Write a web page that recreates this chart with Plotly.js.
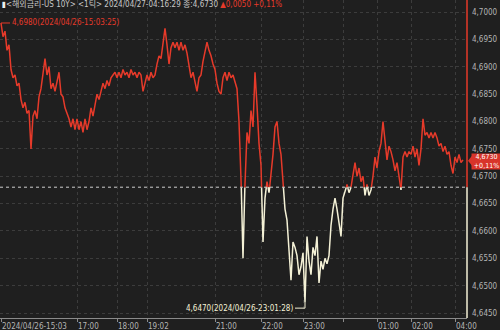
<!DOCTYPE html>
<html><head><meta charset="utf-8">
<script src="https://cdn.plot.ly/plotly-3.0.1.min.js"></script>
<style>html,body{margin:0;padding:0;background:#1f1f1f;}#chart{width:500px;height:330px;}</style>
</head><body><div id="chart"></div>
<script>
// Tick-by-tick yield values (US 10Y), one per tick index
const yields = [
 4.6980,4.6955,4.6965,4.6930,4.6940,4.6895,4.6880,4.6885,4.6865,4.6870,
 4.6840,4.6825,4.6835,4.6815,4.6820,4.6750,4.6810,4.6820,4.6805,4.6845,
 4.6860,4.6885,4.6915,4.6885,4.6900,4.6860,4.6870,4.6855,4.6870,4.6890,
 4.6850,4.6845,4.6825,4.6815,4.6805,4.6790,4.6805,4.6785,4.6805,4.6785,
 4.6800,4.6780,4.6805,4.6785,4.6800,4.6825,4.6810,4.6830,4.6850,4.6840,
 4.6855,4.6870,4.6860,4.6875,4.6865,4.6880,4.6885,4.6890,4.6880,4.6890,
 4.6880,4.6895,4.6885,4.6890,4.6880,4.6895,4.6885,4.6890,4.6880,4.6890,
 4.6885,4.6855,4.6870,4.6885,4.6875,4.6890,4.6880,4.6885,4.6905,4.6920,
 4.6915,4.6940,4.6970,4.6940,4.6905,4.6935,4.6945,4.6935,4.6945,4.6930,
 4.6945,4.6930,4.6940,4.6925,4.6900,4.6880,4.6890,4.6875,4.6855,4.6880,
 4.6885,4.6910,4.6925,4.6945,4.6930,4.6920,4.6905,4.6895,4.6870,4.6855,
 4.6850,4.6880,4.6890,4.6875,4.6890,4.6880,4.6885,4.6870,4.6860,4.6800,
 4.6700,4.6550,4.6690,4.6780,4.6760,4.6820,4.6790,4.6890,4.6830,4.6760,
 4.6720,4.6580,4.6660,4.6690,4.6670,4.6700,4.6740,4.6790,4.6800,4.6760,
 4.6740,4.6690,4.6640,4.6620,4.6560,4.6510,4.6580,4.6570,4.6555,4.6520,
 4.6535,4.6560,4.6470,4.6590,4.6545,4.6520,4.6570,4.6555,4.6590,4.6505,
 4.6545,4.6530,4.6550,4.6540,4.6555,4.6610,4.6640,4.6660,4.6640,4.6615,
 4.6590,4.6660,4.6670,4.6685,4.6670,4.6680,4.6700,4.6725,4.6700,4.6715,
 4.6690,4.6700,4.6665,4.6685,4.6665,4.6675,4.6700,4.6735,4.6715,4.6745,
 4.6760,4.6800,4.6760,4.6730,4.6755,4.6745,4.6730,4.6710,4.6725,4.6700,
 4.6675,4.6735,4.6745,4.6735,4.6745,4.6740,4.6755,4.6735,4.6750,4.6720,
 4.6750,4.6805,4.6775,4.6780,4.6770,4.6780,4.6770,4.6780,4.6770,4.6755,
 4.6760,4.6745,4.6755,4.6740,4.6745,4.6720,4.6705,4.6735,4.6725,4.6740,
 4.6725,4.6730
];
const prevClose = 4.6680;
const tickPositions = [0, 38, 58, 73, 107, 130, 151, 171, 188, 205, 227];
const tickLabels = ['2024/04/26-15:03', '17:00', '18:00', '19:02', '21:00', '22:00', '23:00', '', '01:00', '02:00', '04:00'];
const maxTime = '2024/04/26-15:03:25';
const minTime = '2024/04/26-23:01:28';
const lastTime = '2024/04/27-04:16:29';
const yRange = [4.6441, 4.7022];

const RED = '#e63a2a', CREAM = '#f4f1d6', BOX = '#d8342a';
const FONT = '"Liberation Sans Narrow", "DejaVu Sans Condensed", "Noto Sans CJK KR", sans-serif';
const fmt = v => v.toFixed(4).replace('.', ',');

const xs = yields.map((_, i) => i);

function splitAtRef(xv, yv, ref) {
  const above = {x: [], y: []}, below = {x: [], y: []};
  function add(t, xa, ya, xb, yb) {
    const n = t.x.length;
    if (n && t.x[n-1] === xa && t.y[n-1] === ya) { t.x.push(xb); t.y.push(yb); }
    else { if (n) { t.x.push(null); t.y.push(null); } t.x.push(xa, xb); t.y.push(ya, yb); }
  }
  for (let i = 0; i < yv.length - 1; i++) {
    const x0 = xv[i], y0 = yv[i], x1 = xv[i+1], y1 = yv[i+1];
    const a0 = y0 >= ref, a1 = y1 >= ref;
    if (a0 === a1) add(a0 ? above : below, x0, y0, x1, y1);
    else {
      const xc = x0 + (ref - y0) / (y1 - y0) * (x1 - x0);
      add(a0 ? above : below, x0, y0, xc, ref);
      add(a1 ? above : below, xc, ref, x1, y1);
    }
  }
  return {above, below};
}
const parts = splitAtRef(xs, yields, prevClose);

const maxVal = Math.max(...yields), maxIdx = yields.indexOf(maxVal);
const minVal = Math.min(...yields), minIdx = yields.indexOf(minVal);
const lastVal = yields[yields.length - 1];
const chg = lastVal - prevClose;
const pct = chg / prevClose * 100;
const chgTxt = (chg >= 0 ? '▲' : '▼') + fmt(Math.abs(chg));
const pctTxt = (pct >= 0 ? '+' : '-') + Math.abs(pct).toFixed(2).replace('.', ',') + '%';

const traces = [
  {x: parts.below.x, y: parts.below.y, type: 'scatter', mode: 'lines', line: {color: CREAM, width: 1.5}, hoverinfo: 'skip', connectgaps: false},
  {x: parts.above.x, y: parts.above.y, type: 'scatter', mode: 'lines', line: {color: RED, width: 1.5}, hoverinfo: 'skip', connectgaps: false}
];

const layout = {
  width: 500, height: 330,
  margin: {l: 0, r: 33, t: 0, b: 12, pad: 0},
  paper_bgcolor: '#1f1f1f', plot_bgcolor: '#1f1f1f',
  separators: ',.',
  showlegend: false,
  title: {
    text: '<span style="color:#f0f0f0">▮</span>&lt;해외금리-US 10Y&gt; &lt;1틱&gt; ' + lastTime + ' 종:' + fmt(lastVal) +
          ' <span style="color:' + RED + '">' + chgTxt + ' ' + pctTxt + '</span>',
    x: 0, xref: 'container', xanchor: 'left', y: 1, yref: 'container', yanchor: 'top',
    pad: {t: 1, l: 2},
    font: {family: FONT, size: 8, color: '#c8c8c8'}
  },
  xaxis: {
    range: [-0.5, 233], tickmode: 'array', tickvals: tickPositions, ticktext: tickLabels,
    ticks: 'outside', ticklen: 3, tickcolor: '#8a8a8a', ticklabelposition: 'outside right',
    showline: true, linecolor: '#8a8a8a', linewidth: 1,
    showgrid: true, gridcolor: '#3c3c3c', griddash: 'dot', zeroline: false,
    tickfont: {family: FONT, size: 8, color: '#b4b4b4'}, fixedrange: true
  },
  yaxis: {
    side: 'right', range: yRange, tick0: 4.645, dtick: 0.005, tickformat: '.4f',
    showgrid: true, gridcolor: '#3c3c3c', griddash: 'dot', zeroline: false, ticks: '',
    showline: false, ticklabelstandoff: 4,
    tickfont: {family: FONT, size: 8, color: '#b4b4b4'}, fixedrange: true
  },
  shapes: [
    {type: 'line', xref: 'paper', x0: 0, x1: 1, yref: 'y', y0: prevClose, y1: prevClose, line: {color: '#cfcfcf', width: 1, dash: 'dot'}},
    {type: 'line', xref: 'paper', x0: 1, x1: 1, yref: 'y', y0: prevClose, y1: yRange[1], line: {color: RED, width: 1.5}},
    {type: 'line', xref: 'paper', x0: 1, x1: 1, yref: 'y', y0: yRange[0], y1: prevClose, line: {color: CREAM, width: 1.5}},
    {type: 'path', xref: 'x', xsizemode: 'pixel', xanchor: minIdx, yref: 'y', ysizemode: 'pixel', yanchor: minVal,
     path: 'M0,0 L0,-6 L-10,-6', line: {color: CREAM, width: 1}},
    {type: 'path', xref: 'paper', xsizemode: 'pixel', xanchor: 1, yref: 'y', ysizemode: 'pixel', yanchor: lastVal,
     path: 'M1,-1 L5,-6 L5,4 Z', fillcolor: BOX, line: {width: 0}}
  ],
  annotations: [
    {x: maxIdx, y: maxVal, xref: 'x', yref: 'y', text: fmt(maxVal) + '(' + maxTime + ')', showarrow: true,
     arrowhead: 0, arrowwidth: 1, arrowcolor: RED, ax: 9, ay: 0, xanchor: 'left', yanchor: 'middle',
     font: {family: FONT, size: 8, color: RED}},
    {x: minIdx, y: minVal, xref: 'x', yref: 'y', text: fmt(minVal) + '(' + minTime + ')', showarrow: false,
     xanchor: 'right', yanchor: 'middle', xshift: -10, yshift: -6,
     font: {family: FONT, size: 8, color: CREAM}},
    {x: 1, xref: 'paper', y: lastVal, yref: 'y', yshift: -2, text: fmt(lastVal) + '<br>' + pctTxt, showarrow: false,
     xanchor: 'left', yanchor: 'middle', xshift: 4, bgcolor: BOX, borderpad: 0, width: 29, height: 15, align: 'center',
     font: {family: FONT, size: 7, color: '#ffffff'}}
  ]
};

Plotly.newPlot('chart', traces, layout, {staticPlot: true, displayModeBar: false});
</script>
</body></html>
